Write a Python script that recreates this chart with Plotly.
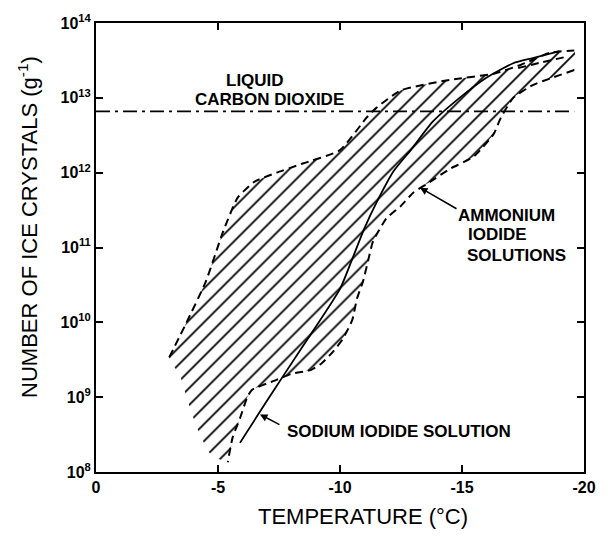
import plotly.graph_objects as go

# ---------------- data ----------------
x_tickvals = [0, -5, -10, -15, -20]
x_ticktext = ["0", "-5", "-10", "-15", "-20"]
y_tickvals = [1e8, 1e9, 1e10, 1e11, 1e12, 1e13, 1e14]
y_ticktext = ["10<sup>8</sup>", "10<sup>9</sup>", "10<sup>10</sup>", "10<sup>11</sup>",
              "10<sup>12</sup>", "10<sup>13</sup>", "10<sup>14</sup>"]

# Ammonium iodide solutions: upper dashed envelope
upper_temp = [-3.0, -3.7, -4.5, -5.2, -5.8, -6.5, -7.4, -8.4, -10.0, -11.1, -11.5, -12.5,
              -14.5, -16.3, -17.4, -18.6, -19.6]
upper_val = [3.4e9, 9.8e9, 3.5e10, 1.6e11, 4.6e11, 7.6e11, 1.0e12, 1.3e12, 2.0e12, 5.5e12,
             7.4e12, 1.26e13, 1.74e13, 2.1e13, 2.75e13, 4.0e13, 4.3e13]

# Ammonium iodide solutions: lower dashed envelope (right -> left)
lower_temp = [-19.6, -18.7, -17.9, -17.1, -16.6, -16.3, -15.5, -14.5, -13.6, -13.0,
              -12.5, -11.9, -11.35, -11.15, -10.94, -10.7, -10.5, -10.1, -9.7, -9.2,
              -8.8, -8.0, -7.4, -6.4, -6.2, -5.9, -5.6, -5.4]
lower_val = [2.35e13, 1.86e13, 1.48e13, 1.0e13, 5.5e12, 3.3e12, 1.66e12, 1.12e12,
             7.2e11, 5.4e11, 3.6e11, 2.45e11, 1.2e11, 6.6e10, 3.5e10, 2.1e10, 1.07e10,
             5.9e9, 4.0e9, 2.75e9, 2.3e9, 2.05e9, 1.7e9, 1.26e9, 1.0e9, 5.2e8, 2.9e8,
             1.35e8]

# Left (undrawn) edge of the hatched band, bottom -> top
left_temp = [-4.67, -4.14, -3.77, -3.44, -3.0]
left_val = [1.78e8, 3.9e8, 8.7e8, 1.95e9, 3.4e9]

# Intermediate dashed curve at the upper right
mid_temp = [-17.3, -18.3, -19.3]
mid_val = [2.5e13, 3.0e13, 3.55e13]

# Sodium iodide solution (solid)
sodium_temp = [-5.9, -7.0, -8.4, -10.0, -10.5, -11.0, -11.5, -12.2, -12.9, -13.8,
               -14.9, -16.0, -17.1, -17.9, -19.0]
sodium_val = [2.45e8, 8.9e8, 4.4e9, 2.8e10, 7.0e10, 1.8e11, 4.0e11, 1.05e12, 2.0e12,
              4.8e12, 1.0e13, 1.86e13, 2.9e13, 3.4e13, 4.2e13]

# Liquid carbon dioxide level
co2_temp = [0, -19.6]
co2_val = [6.6e12, 6.6e12]

# ---------------- figure ----------------
W, H = 608, 539
ML, MR, MT, MB = 96, 24, 14, 67
PW, PH = W - ML - MR, H - MT - MB


def px(xp):
    return (xp - ML) / PW


def py(yp):
    return (H - MB - yp) / PH


fig = go.Figure()

band_t = upper_temp + lower_temp + left_temp
band_v = upper_val + lower_val + left_val
fig.add_trace(go.Scatter(
    x=band_t, y=band_v, mode="lines", fill="toself",
    line=dict(width=0, color="rgba(0,0,0,0)", shape="spline", smoothing=0.5),
    fillcolor="rgba(0,0,0,0)",
    fillpattern=dict(shape="/", size=12, solidity=0.15, fgopacity=1,
                     fgcolor="black", bgcolor="rgba(0,0,0,0)"),
    hoverinfo="skip", showlegend=False))

dash_style = dict(color="black", width=2, dash="8px,5px", shape="spline", smoothing=0.5)
fig.add_trace(go.Scatter(x=upper_temp, y=upper_val, mode="lines",
                         line=dash_style, showlegend=False))
fig.add_trace(go.Scatter(x=lower_temp, y=lower_val, mode="lines",
                         line=dash_style, showlegend=False))
fig.add_trace(go.Scatter(x=mid_temp, y=mid_val, mode="lines",
                         line=dash_style, showlegend=False))
fig.add_trace(go.Scatter(x=sodium_temp, y=sodium_val, mode="lines",
                         line=dict(color="black", width=1.8, shape="spline", smoothing=0.6),
                         showlegend=False))
fig.add_trace(go.Scatter(x=co2_temp, y=co2_val, mode="lines",
                         line=dict(color="black", width=1.6, dash="14px,5px,3px,5px"),
                         showlegend=False))

FONT = "Liberation Sans, Arial, sans-serif"
anns = [
    ("<b>LIQUID</b>", 255, 73),
    ("<b>CARBON DIOXIDE</b>", 269, 92),
    ("<b>AMMONIUM</b>", 506, 210),
    ("<b>IODIDE</b>", 497, 230),
    ("<b>SOLUTIONS</b>", 516, 251),
    ("<b>SODIUM IODIDE SOLUTION</b>", 399, 431),
]
for text, xp, yp in anns:
    fig.add_annotation(text=text, x=px(xp), y=py(yp), xref="paper", yref="paper",
                       xanchor="center", yanchor="middle", showarrow=False,
                       font=dict(family=FONT, size=17, color="black"))

# arrows (head in data coordinates: temperature, log10 of count)
fig.add_annotation(x=-6.72, y=8.77, xref="x", yref="y", text="", showarrow=True,
                   ax=21, ay=11, arrowhead=2, arrowsize=1, arrowwidth=1.5,
                   arrowcolor="black")
fig.add_annotation(x=-13.28, y=11.80, xref="x", yref="y", text="", showarrow=True,
                   ax=38, ay=22, arrowhead=2, arrowsize=1, arrowwidth=1.5,
                   arrowcolor="black")

# axis titles as positioned text
fig.add_annotation(text="NUMBER OF ICE CRYSTALS (g<sup>-1</sup>)", x=px(28), y=py(222),
                   xref="paper", yref="paper", textangle=-90, showarrow=False,
                   xanchor="center", yanchor="middle",
                   font=dict(family=FONT, size=22, color="black"))
fig.add_annotation(text="TEMPERATURE (°C)", x=px(363), y=py(517),
                   xref="paper", yref="paper", showarrow=False,
                   xanchor="center", yanchor="middle",
                   font=dict(family=FONT, size=22, color="black"))

axis_common = dict(showgrid=False, zeroline=False, showline=True, linecolor="black",
                   linewidth=2, mirror="ticks", ticks="inside", ticklen=7,
                   tickwidth=1.6, tickcolor="black",
                   tickfont=dict(family=FONT, size=16, color="black", weight="bold"))
fig.update_xaxes(range=[0, -20], tickvals=x_tickvals, ticktext=x_ticktext,
                 **axis_common)
fig.update_yaxes(type="log", range=[8, 14], tickvals=y_tickvals, ticktext=y_ticktext,
                 **axis_common)

fig.update_layout(width=W, height=H, autosize=False,
                  margin=dict(l=ML, r=MR, t=MT, b=MB),
                  paper_bgcolor="white", plot_bgcolor="white", showlegend=False)

fig.write_html("out.html")
